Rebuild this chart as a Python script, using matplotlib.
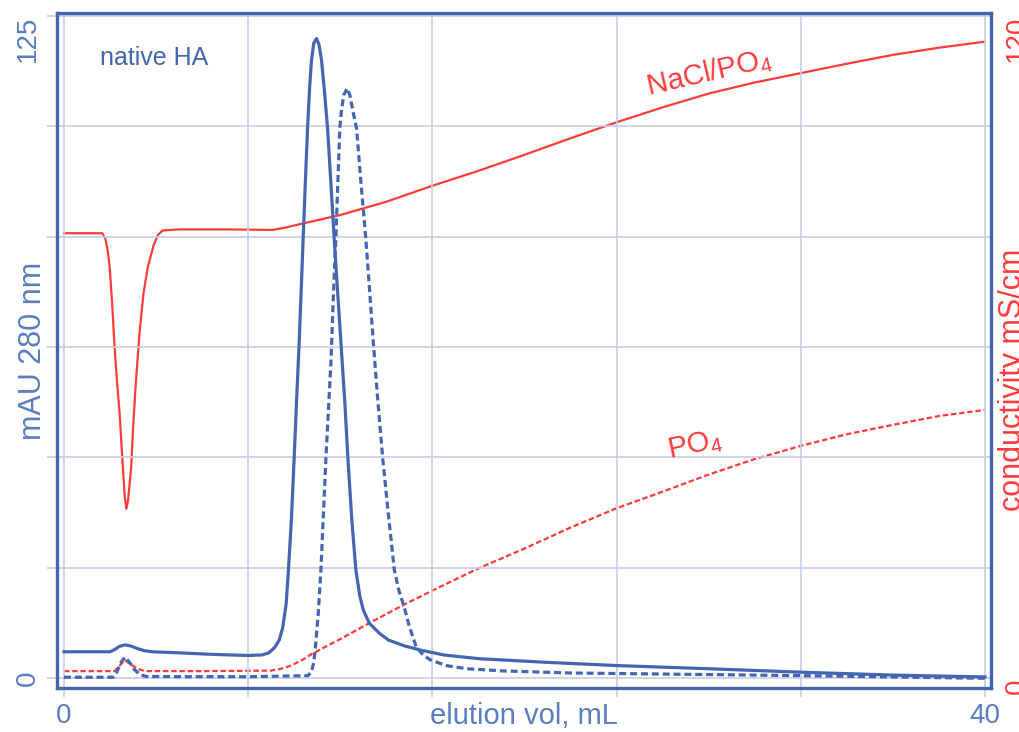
import matplotlib
matplotlib.use("Agg")
import matplotlib.pyplot as plt
import numpy as np

plt.rcParams['font.family'] = ['Liberation Sans', 'DejaVu Sans']
plt.rcParams['mathtext.fontset'] = 'custom'
plt.rcParams['mathtext.rm'] = 'Liberation Sans'
plt.rcParams['mathtext.it'] = 'Liberation Sans:italic'

# UV trace, native HA, solid (mAU)
uv1_x = [0, 2.0, 2.2, 2.4, 2.65, 2.9, 3.2, 3.5, 3.85, 5.0, 6.5, 8.0, 8.6, 8.9, 9.15, 9.35, 9.5,
         9.65, 9.75, 9.88, 10.0, 10.11, 10.22, 10.39, 10.48, 10.58, 10.67, 10.75, 10.85, 10.97,
         11.08, 11.19, 11.32, 11.45, 11.6, 11.75, 11.9, 12.05, 12.2, 12.33, 12.5, 12.68, 12.85,
         13.0, 13.26, 13.7, 14.1, 14.8, 15.5, 16.5, 18.0, 21.0, 24.0, 28.0, 32.0, 36.0, 40.0]
uv1_y = [5.0, 5.0, 5.4, 6.0, 6.3, 6.1, 5.6, 5.2, 5.0, 4.8, 4.5, 4.3, 4.4, 4.8, 5.8, 7.2, 9.5,
         14.0, 20.4, 30.0, 41.7, 53.0, 63.7, 83.0, 93.0, 103.7, 111.5, 116.5, 119.8, 120.7,
         119.5, 116.5, 110.5, 103.7, 93.0, 82.0, 72.0, 62.0, 52.0, 41.7, 30.0, 20.4, 15.5,
         12.9, 10.4, 8.5, 7.2, 6.1, 5.3, 4.4, 3.7, 3.0, 2.4, 1.8, 1.15, 0.6, 0.25]

# UV trace, dashed (mAU)
uv2_x = [0, 2.15, 2.3, 2.45, 2.65, 2.85, 3.05, 3.3, 3.55, 5.0, 8.0, 10.6, 10.75, 10.85, 10.91,
         11.05, 11.16, 11.27, 11.38, 11.6, 11.7, 11.81, 11.9, 11.98, 12.05, 12.15, 12.3, 12.42,
         12.55, 12.71, 12.9, 13.11, 13.27, 13.43, 13.63, 13.84, 14.1, 14.35, 14.55, 14.78, 15.0,
         15.3, 15.6, 15.9, 16.6, 17.5, 19.0, 22.0, 26.0, 32.0, 40.0]
uv2_y = [0.2, 0.2, 1.2, 2.8, 4.0, 3.0, 1.7, 0.7, 0.35, 0.3, 0.3, 0.5, 1.2, 3.0, 5.3,
         12.5, 20.4, 31.0, 41.7, 60.0, 72.0, 83.0, 94.0, 103.7, 107.0, 110.0, 111.3, 110.0,
         107.0, 103.7, 93.5, 83.0, 73.5, 63.7, 52.5, 41.7, 30.5, 20.4, 16.5, 13.4, 9.8,
         5.9, 4.4, 3.5, 2.4, 1.8, 1.4, 1.0, 0.8, 0.5, 0.0]

# conductivity NaCl/PO4, solid (mS/cm)
cond1_x = [0, 1.67, 1.8, 1.9, 1.99, 2.1, 2.2, 2.31, 2.42, 2.56, 2.64, 2.71, 2.78, 2.85, 2.92,
           3.0, 3.11, 3.28, 3.45, 3.64, 3.9, 4.1, 4.29, 5.0, 7.0, 9.06, 9.6, 10.2, 12.0, 14.0,
           16.0, 18.0, 20.0, 22.0, 24.0, 26.0, 28.0, 30.0, 32.0, 34.0, 36.0, 38.0, 40.0]
cond1_y = [80.6, 80.6, 79.6, 77.5, 74.4, 67.5, 60.0, 53.5, 47.9, 38.2, 33.0, 30.7, 32.0, 35.0, 38.2,
           45.0, 52.7, 62.4, 69.5, 74.4, 78.5, 80.4, 81.1, 81.3, 81.3, 81.2, 81.6, 82.2, 83.9, 86.3,
           89.2, 91.9, 94.8, 97.8, 100.7, 103.4, 105.9, 107.9, 109.6, 111.3, 112.9, 114.2, 115.3]

# conductivity PO4, dashed (mS/cm)
cond2_x = [0, 2.2, 2.4, 2.65, 2.9, 3.2, 3.55, 6.0, 9.0, 9.4, 9.8, 10.3, 10.8, 12.0, 13.3, 14.8,
           16.3, 18.0, 20.0, 22.0, 24.0, 26.0, 28.0, 30.0, 32.0, 34.0, 36.0, 38.0, 40.0]
cond2_y = [1.3, 1.3, 2.2, 3.3, 2.5, 1.7, 1.3, 1.3, 1.4, 1.7, 2.2, 3.2, 4.5, 7.1, 10.1, 13.4,
           16.5, 19.9, 23.5, 27.3, 30.8, 33.8, 36.9, 39.7, 42.1, 44.2, 45.9, 47.5, 48.6]

blue = "#4465b0"
blue_txt = "#5a7cc2"
red = "#ff3b3b"
grid_c = "#c6cde6"

fig = plt.figure(figsize=(10.19, 7.32), dpi=100)
ax = fig.add_axes([57 / 1019, 1 - 688.3 / 732, 934 / 1019, 675.6 / 732])
ax2 = ax.twinx()

# red conductivity traces (right axis)
ax2.plot(cond1_x, cond1_y, color=red, lw=1.6)
ax2.plot(cond2_x, cond2_y, color=red, lw=1.6, dashes=(2.5, 1.2))
ax2.set_ylim(-1.81, 120.54)

# blue UV traces on top
ax.set_zorder(ax2.get_zorder() + 1)
ax.patch.set_visible(False)
ax.plot(uv1_x, uv1_y, color=blue, lw=2.3)
ax.plot(uv2_x, uv2_y, color=blue, lw=2.3, dashes=(2.2, 1.2))
ax.set_xlim(-0.30, 40.26)
ax.set_ylim(-1.89, 125.57)

# grid and ticks
ax.set_xticks([0, 8, 16, 24, 32, 40], ['0', '', '', '', '', '40'])
yt = np.linspace(0, 125, 7)
ax.set_yticks(yt, ['0', '', '', '', '', '', '125'], rotation=90, va='center')
ax.get_yticklabels()[-1].set_va('top')
ax.grid(True, color=grid_c, lw=1.2)
ax.tick_params(axis='x', length=6.5, width=1.2, color=grid_c, pad=4,
               labelsize=20, labelcolor=blue_txt)
ax.tick_params(axis='y', length=7, width=1.2, color=grid_c, pad=4.5,
               labelsize=20, labelcolor=blue_txt)

ax2.set_yticks([0, 120], ['0', '120'], rotation=90)
for lab in ax2.get_yticklabels():
    lab.set_va('top')
ax2.tick_params(axis='y', length=0, pad=9, labelsize=20, labelcolor=red)

for sp in ax.spines.values():
    sp.set_color(blue)
    sp.set_linewidth(2.4)
for sp in ax2.spines.values():
    sp.set_visible(False)

# axis labels
ax.set_xlabel("elution vol, mL", fontsize=21, color=blue_txt)
ax.xaxis.set_label_coords(0.5, -0.021)
ax.set_ylabel("mAU 280 nm", fontsize=22, color=blue_txt)
ax.yaxis.set_label_coords(-0.010, 0.5)
ax2.set_ylabel("conductivity mS/cm", fontsize=22, color=red)
ax2.yaxis.set_label_coords(1.008, 0.456)

# annotations
ax.text(3.9, 117.0, "native HA", fontsize=18, color=blue, ha='center', va='center')
ax.text(28.0, 114.2, "NaCl/PO$_\\mathrm{4}$", fontsize=21, color=red, rotation=13,
        ha='center', va='center', rotation_mode='anchor')
ax.text(27.4, 44.0, "PO$_\\mathrm{4}$", fontsize=21, color=red, rotation=12,
        ha='center', va='center', rotation_mode='anchor')

fig.savefig("out.png", dpi=100)
